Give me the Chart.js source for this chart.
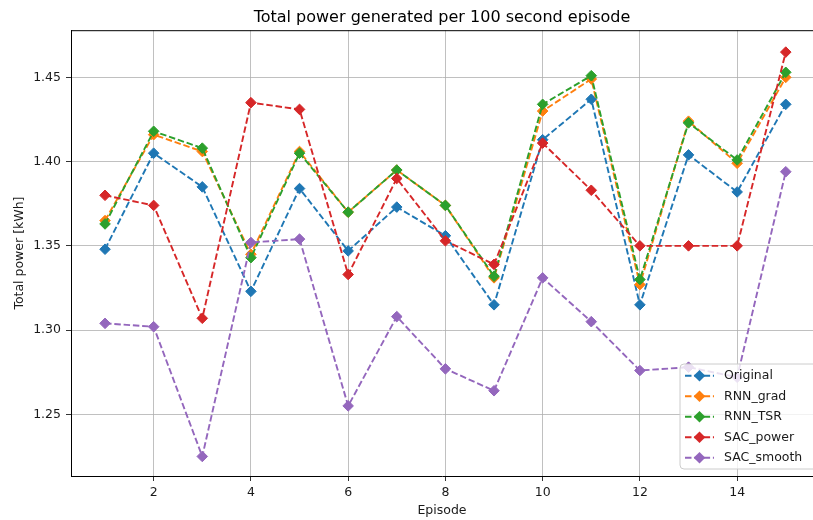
<!DOCTYPE html>
<html>
<head>
<meta charset="utf-8">
<script src="https://cdn.jsdelivr.net/npm/chart.js@4.4.0/dist/chart.umd.min.js"></script>
<style>
  html, body { margin: 0; padding: 0; background: #fff; }
  #wrap { width: 813px; height: 520px; position: relative; }
</style>
</head>
<body>
<div id="wrap"><canvas id="chart" width="813" height="520"></canvas></div>
<script>
// Episode numbers and total power per 100 s episode [kWh]
const episodes  = [1, 2, 3, 4, 5, 6, 7, 8, 9, 10, 11, 12, 13, 14, 15];
const original  = [1.348, 1.405, 1.385, 1.323, 1.384, 1.347, 1.373, 1.356, 1.315, 1.413, 1.437, 1.315, 1.404, 1.382, 1.434];
const rnnGrad   = [1.365, 1.416, 1.406, 1.345, 1.406, 1.370, 1.395, 1.374, 1.331, 1.430, 1.449, 1.327, 1.424, 1.399, 1.450];
const rnnTsr    = [1.363, 1.418, 1.408, 1.343, 1.405, 1.370, 1.395, 1.374, 1.332, 1.434, 1.451, 1.330, 1.423, 1.401, 1.453];
const sacPower  = [1.380, 1.374, 1.307, 1.435, 1.431, 1.333, 1.390, 1.353, 1.339, 1.411, 1.383, 1.350, 1.350, 1.350, 1.465];
const sacSmooth = [1.304, 1.302, 1.225, 1.352, 1.354, 1.255, 1.308, 1.277, 1.264, 1.331, 1.305, 1.276, 1.278, 1.272, 1.394];

const seriesNames  = ['Original', 'RNN_grad', 'RNN_TSR', 'SAC_power', 'SAC_smooth'];
const seriesValues = [original, rnnGrad, rnnTsr, sacPower, sacSmooth];
const seriesColors = ['#1f77b4', '#ff7f0e', '#2ca02c', '#d62728', '#9467bd'];

const xTicks = [2, 4, 6, 8, 10, 12, 14];
const yTicks = [1.25, 1.30, 1.35, 1.40, 1.45];

const FONT = "'DejaVu Sans', 'Liberation Sans', sans-serif";
const DASH = [6.5, 2.8];

const datasets = seriesNames.map((name, i) => ({
  label: name,
  data: episodes.map((ep, k) => ({ x: ep, y: seriesValues[i][k] })),
  borderColor: seriesColors[i],
  backgroundColor: seriesColors[i],
  borderWidth: 1.9,
  borderDash: DASH,
  pointStyle: 'rectRot',
  pointRadius: 5.3,
  pointHoverRadius: 5.3,
  pointBorderWidth: 1,
  pointBackgroundColor: seriesColors[i],
  pointBorderColor: seriesColors[i],
  tension: 0,
  fill: false,
  // later series are painted on top of earlier ones
  order: seriesNames.length - i
}));

// top frame line of the plot area
const frameTop = {
  id: 'frameTop',
  beforeDatasetsDraw(chart) {
    const { ctx, chartArea: a } = chart;
    ctx.save();
    ctx.strokeStyle = '#000';
    ctx.lineWidth = 1;
    ctx.beginPath();
    ctx.moveTo(a.left, a.top + 0.5);
    ctx.lineTo(a.right, a.top + 0.5);
    ctx.stroke();
    ctx.restore();
  }
};

// boxed legend in the lower right of the plot area
const boxLegend = {
  id: 'boxLegend',
  afterDatasetsDraw(chart) {
    const { ctx } = chart;
    const bx = 680, by = 364, bw = 140, bh = 105, r = 4;
    ctx.save();
    ctx.beginPath();
    ctx.moveTo(bx + r, by);
    ctx.lineTo(bx + bw - r, by);
    ctx.arcTo(bx + bw, by, bx + bw, by + r, r);
    ctx.lineTo(bx + bw, by + bh - r);
    ctx.arcTo(bx + bw, by + bh, bx + bw - r, by + bh, r);
    ctx.lineTo(bx + r, by + bh);
    ctx.arcTo(bx, by + bh, bx, by + bh - r, r);
    ctx.lineTo(bx, by + r);
    ctx.arcTo(bx, by, bx + r, by, r);
    ctx.closePath();
    ctx.fillStyle = 'rgba(255,255,255,0.8)';
    ctx.fill();
    ctx.strokeStyle = '#cccccc';
    ctx.lineWidth = 1;
    ctx.stroke();

    chart.data.datasets.forEach((ds, i) => {
      const cy = 375.7 + i * 20.5;
      ctx.strokeStyle = ds.borderColor;
      ctx.lineWidth = 1.9;
      ctx.setLineDash(DASH);
      ctx.beginPath();
      ctx.moveTo(685, cy);
      ctx.lineTo(714, cy);
      ctx.stroke();
      ctx.setLineDash([]);
      const cx = 699.5, rr = 5.8;
      ctx.fillStyle = ds.borderColor;
      ctx.beginPath();
      ctx.moveTo(cx, cy - rr);
      ctx.lineTo(cx + rr, cy);
      ctx.lineTo(cx, cy + rr);
      ctx.lineTo(cx - rr, cy);
      ctx.closePath();
      ctx.fill();
      ctx.fillStyle = '#1a1a1a';
      ctx.font = '12.5px ' + FONT;
      ctx.textBaseline = 'middle';
      ctx.textAlign = 'left';
      ctx.fillText(ds.label, 724, cy + 0.5);
    });
    ctx.restore();
  }
};

new Chart(document.getElementById('chart'), {
  type: 'line',
  data: { datasets },
  options: {
    responsive: false,
    devicePixelRatio: 1,
    animation: false,
    events: [],
    layout: { autoPadding: false, padding: 0 },
    plugins: {
      legend: { display: false },
      tooltip: { enabled: false },
      title: {
        display: true,
        text: 'Total power generated per 100 second episode',
        fullSize: false,
        color: '#000',
        font: { family: FONT, size: 16, weight: 'normal' },
        padding: { top: 8, bottom: 3 }
      }
    },
    scales: {
      x: {
        type: 'linear',
        min: 0.3,
        max: 15.56,
        afterBuildTicks(scale) { scale.ticks = xTicks.map(v => ({ value: v })); },
        afterFit(scale) {
          scale.height = 44;
          scale.paddingLeft = 0;
          scale.paddingRight = 0;
        },
        grid: { color: '#b0b0b0', lineWidth: 0.8, tickColor: '#000', tickLength: 5, drawTicks: true },
        border: { display: true, color: '#000', width: 1 },
        ticks: {
          color: '#1a1a1a', padding: 4, maxRotation: 0, autoSkip: false,
          font: { family: FONT, size: 12.5 },
          callback: v => String(v)
        },
        title: {
          display: true, text: 'Episode', color: '#1a1a1a',
          font: { family: FONT, size: 12.5 },
          padding: { top: 2, bottom: 2 }
        }
      },
      y: {
        type: 'linear',
        min: 1.2134,
        max: 1.4780,
        afterBuildTicks(scale) { scale.ticks = yTicks.map(v => ({ value: v })); },
        afterFit(scale) {
          scale.width = 71;
          scale.paddingTop = 0;
          scale.paddingBottom = 0;
        },
        grid: { color: '#b0b0b0', lineWidth: 0.8, tickColor: '#000', tickLength: 5, drawTicks: true },
        border: { display: true, color: '#000', width: 1 },
        ticks: {
          color: '#1a1a1a', padding: 5, autoSkip: false,
          font: { family: FONT, size: 12.5 },
          callback: v => v.toFixed(2)
        },
        title: {
          display: true, text: 'Total power [kWh]', color: '#1a1a1a',
          font: { family: FONT, size: 12.5 },
          padding: { top: 12, bottom: 12 }
        }
      }
    }
  },
  plugins: [frameTop, boxLegend]
});
</script>
</body>
</html>
